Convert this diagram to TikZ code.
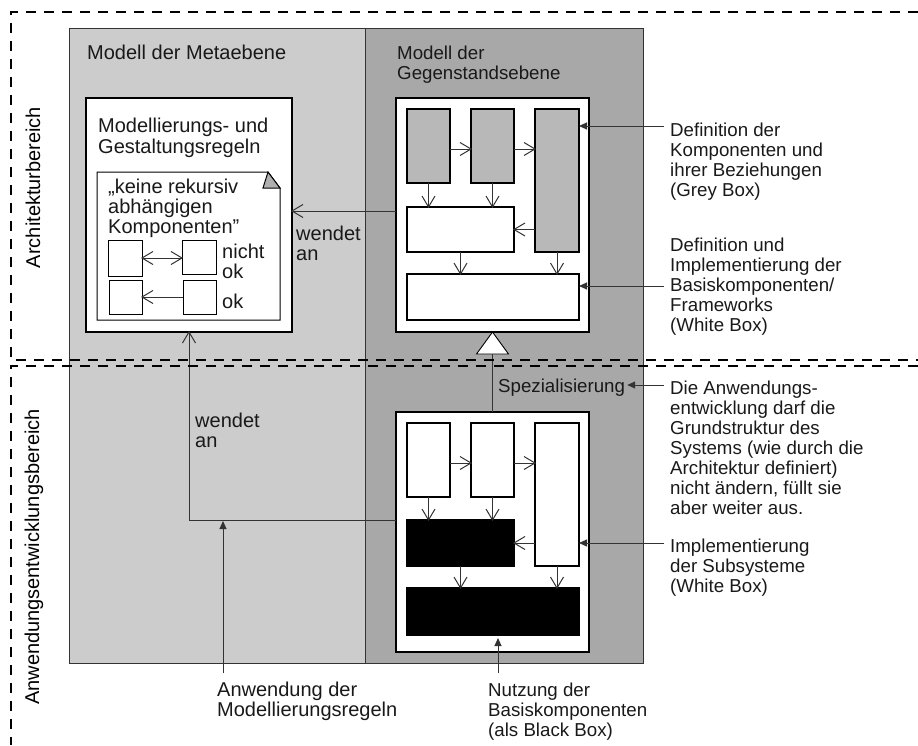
\documentclass[tikz,border=0pt]{standalone}
\usepackage{fontspec}
\setmainfont{Liberation Sans}
\usetikzlibrary{arrows.meta}
\definecolor{panellight}{HTML}{CCCCCC}
\definecolor{paneldark}{HTML}{A8A8A8}
\definecolor{compgrey}{HTML}{B8B8B8}
\definecolor{foldgrey}{HTML}{B0B0B0}
\definecolor{linegrey}{HTML}{333333}

% a plain open "V" arrow tip made of two straight strokes, 11pt long and 13pt wide
\pgfdeclarearrow{
  name = OpenVee,
  setup code = {
    \pgfarrowssettipend{0pt}
    \pgfarrowssetlineend{0pt}
    \pgfarrowssetbackend{-11pt}
    \pgfarrowshullpoint{0pt}{0pt}
    \pgfarrowshullpoint{-11pt}{6.5pt}
    \pgfarrowshullpoint{-11pt}{-6.5pt}
  },
  drawing code = {
    \pgfpathmoveto{\pgfqpoint{-11pt}{6.5pt}}
    \pgfpathlineto{\pgfqpoint{0pt}{0pt}}
    \pgfpathlineto{\pgfqpoint{-11pt}{-6.5pt}}
    \pgfusepathqstroke
  }
}

\begin{document}
\begin{tikzpicture}[x=1pt,y=-1pt,
  panel/.style={draw=linegrey, line width=0.9pt},
  box/.style={draw=black, line width=1.1pt, anchor=north west, inner sep=0pt, outer sep=0pt},
  conn/.style={draw=linegrey, line width=1pt},
  open/.style={conn, -{OpenVee}},
  openboth/.style={conn, {OpenVee}-{OpenVee}},
  filled/.style={conn, -{Triangle[length=8pt,width=7pt]}},
  lbl/.style={anchor=base west, align=left, inner sep=0pt, text=black!90, font=\fontsize{20}{20}\selectfont},
  rlbl/.style={lbl, font=\fontsize{18.7}{20}\selectfont}, % multi-line labels are placed by the baseline of their last line
  region/.style={draw=black, line width=2pt, dash pattern=on 10pt off 8pt}]
\useasboundingbox (0,0) rectangle (918,745);

% the two model panels
\draw[panel, fill=panellight] (69,28) rectangle (365,663);
\draw[panel, fill=paneldark] (365,28) rectangle (643,663);
\node[lbl] (metatitle) at (87,59) {Modell der Metaebene};
\node[rlbl] (gegentitle) at (397,79) {Modell der\\Gegenstandsebene};

% rules box with the note
\node[box, fill=white, minimum width=206pt, minimum height=234pt] (rules) at (86,98) {};
\node[lbl, font=\fontsize{20}{21}\selectfont] (rulestitle) at (98,153) {Modellierungs- und\\Gestaltungsregeln};
\draw[black, line width=1pt, fill=white] (97,172) -- (268,172) -- (280,188) -- (280,320) -- (97,320) -- cycle;
\draw[black, line width=1pt, fill=foldgrey] (263,188) -- (268,172) -- (280,188) -- cycle;
\node[lbl] (notetext) at (108,233) {„keine rekursiv\\abhängigen\\Komponenten”};
\node[box, line width=0.9pt, fill=white, minimum width=34pt, minimum height=36pt] (s1) at (108,240) {};
\node[box, line width=0.9pt, fill=white, minimum width=34pt, minimum height=34pt] (s2) at (182,240) {};
\node[box, line width=0.9pt, fill=white, minimum width=33pt, minimum height=34pt] (s3) at (109,280) {};
\node[box, line width=0.9pt, fill=white, minimum width=33pt, minimum height=34pt] (s4) at (183,280) {};
\draw[openboth] (s1.east) -- (s1.east -| s2.west);
\draw[open] (s4.west) -- (s4.west -| s3.east);
\node[lbl] (nichtok) at (222,278) {nicht\\ok};
\node[lbl] (ok) at (222,308) {ok};

% architecture model (grey box)
\node[box, fill=white, minimum width=193pt, minimum height=234pt] (tw) at (396,98) {};
\node[box, fill=compgrey, minimum width=43pt, minimum height=74pt] (a1) at (407,109) {};
\node[box, fill=compgrey, minimum width=43pt, minimum height=74pt] (a2) at (471,109) {};
\node[box, fill=compgrey, minimum width=44pt, minimum height=143pt] (a3) at (535,109) {};
\node[box, fill=white, minimum width=107pt, minimum height=45pt] (b) at (407,207) {};
\node[box, fill=white, minimum width=172pt, minimum height=46pt] (c) at (407,274) {};
\draw[open] ([yshift=-3pt]a1.east) -- ([yshift=-3pt]a2.west);
\draw[open] ([yshift=-3pt]a2.east) -- ([yshift=-3pt]a2.east -| a3.west);
\draw[open] (a1.south) -- (a1.south |- b.north);
\draw[open] (a2.south) -- (a2.south |- b.north);
\draw[open] (b.east -| a3.west) -- (b.east);
\draw[open] (b.south) -- (b.south |- c.north);
\draw[open] (a3.south) -- (a3.south |- c.north);

% application model (white box)
\node[box, fill=white, minimum width=193pt, minimum height=240pt] (bw) at (396,412) {};
\node[box, fill=white, minimum width=43pt, minimum height=74pt] (d1) at (407,423) {};
\node[box, fill=white, minimum width=43pt, minimum height=74pt] (d2) at (471,423) {};
\node[box, fill=white, minimum width=44pt, minimum height=143pt] (d3) at (535,423) {};
\node[box, fill=black, minimum width=107pt, minimum height=46pt] (e) at (407,520) {};
\node[box, fill=black, minimum width=172pt, minimum height=47pt] (f) at (407,588) {};
\draw[open] ([yshift=-3pt]d1.east) -- ([yshift=-3pt]d2.west);
\draw[open] ([yshift=-3pt]d2.east) -- ([yshift=-3pt]d2.east -| d3.west);
\draw[open] (d1.south) -- (d1.south |- e.north);
\draw[open] (d2.south) -- (d2.south |- e.north);
\draw[open] (e.east -| d3.west) -- (e.east);
\draw[open] (e.south) -- (e.south |- f.north);
\draw[open] (d3.south) -- (d3.south |- f.north);

% specialisation
\draw[conn, line width=0.9pt, draw=black, fill=white] (tw.south) -- ++(-16,22) coordinate (gl) -- ++(32,0) -- cycle;
\coordinate (gbase) at (tw.south |- gl);
\draw[conn] (gbase) -- (bw.north);
\node[rlbl] (spez) at (498,392) {Spezialisierung};

% "wendet an" relations
\draw[open] ([yshift=4pt]tw.west) -- ([yshift=4pt]rules.east);
\node[lbl] (wa1) at (296,260) {wendet\\an};
\coordinate (bend) at (189,520);
\draw[open] (bw.west |- e.north) -- (bend) -- (bend |- rules.south);
\node[lbl] (wa2) at (195,447) {wendet\\an};

% explanations on the right
\node[rlbl] (def1) at (670,196) {Definition der\\Komponenten und\\ihrer Beziehungen\\(Grey Box)};
\node[rlbl] (def2) at (670,331) {Definition und\\Implementierung der\\Basiskomponenten/\\Frameworks\\(White Box)};
\node[rlbl] (anw) at (670,514) {Die Anwendungs-\\entwicklung darf die\\Grundstruktur des\\Systems (wie durch die\\Architektur definiert)\\nicht ändern, füllt sie\\aber weiter aus.};
\node[rlbl] (impl) at (670,592) {Implementierung\\der Subsysteme\\(White Box)};
\coordinate (p1) at (664,126);
\coordinate (p2) at (664,286);
\coordinate (p3) at (664,385);
\coordinate (p4) at (664,543);
\draw[filled] (p1) -- (p1 -| a3.east);
\draw[filled] (p2) -- (p2 -| c.east);
\draw[filled, shorten >=2pt] (p3) -- (p3 -| spez.east);
\draw[filled] (p4) -- (p4 -| d3.east);

% explanations below
\node[rlbl] (nutz) at (488,736) {Nutzung der\\Basiskomponenten\\(als Black Box)};
\node[lbl] (anwreg) at (217,716) {Anwendung der\\Modellierungsregeln};
\coordinate (p5) at (498,673);
\coordinate (p6) at (223,673);
\draw[filled, shorten >=3pt] (p5) -- (p5 |- f.south);
\draw[filled, shorten >=1pt] (p6) -- (p6 |- bend);

% areas
\node[rotate=90, anchor=base, inner sep=0pt, font=\fontsize{20}{20}\selectfont] (archlbl) at (40,187.5) {Architekturbereich};
\node[rotate=90, anchor=base, inner sep=0pt, font=\fontsize{20}{20}\selectfont] (anwlbl) at (39,557) {Anwendungsentwicklungsbereich};
\draw[region] (918,12) -- (11,12) -- (11,360) -- (918,360);
\draw[region] (918,366) -- (11,366) -- (11,745);
\end{tikzpicture}
\end{document}
